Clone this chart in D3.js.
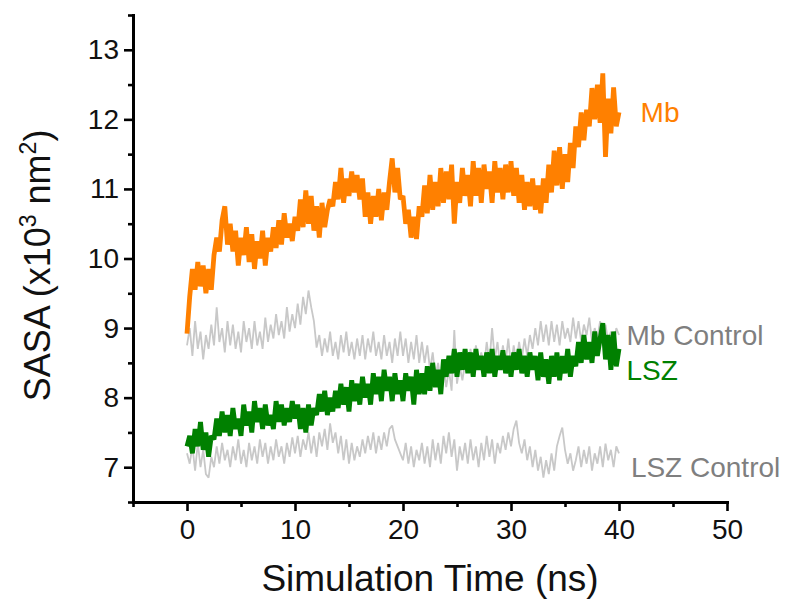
<!DOCTYPE html>
<html>
<head>
<meta charset="utf-8">
<script src="https://cdn.jsdelivr.net/npm/d3@7"></script>
<style>
  body { margin: 0; background: #fff; }
  text { font-family: "Liberation Sans", Arial, sans-serif; }
</style>
</head>
<body>
<div id="plot"></div>
<script>
// SASA traces, one value every 0.25 ns from 0 to 40 ns (x10^3 nm^2)
const step = 0.25;

const mb = [
  8.92, 9.45, 9.85, 9.55, 9.95, 9.6, 9.9, 9.5,
  9.85, 9.55, 10.05, 10.3, 10.1, 10.55, 10.75, 10.2,
  10.5, 10.1, 10.4, 9.9, 10.3, 10.05, 10.45, 9.95,
  10.35, 9.85, 10.25, 10.0, 10.4, 9.9, 10.3, 10.1,
  10.45, 10.15, 10.55, 10.2, 10.65, 10.3, 10.5, 10.25,
  10.6, 10.4, 10.85, 10.45, 10.98, 10.5, 10.9, 10.4,
  10.75, 10.3, 10.8, 10.45, 10.7, 10.85, 10.75, 11.1,
  10.85, 11.3, 10.8, 11.15, 10.9, 11.25, 10.95, 11.2,
  10.85, 11.15, 10.6, 10.95, 10.5, 10.9, 10.6, 11.0,
  10.55, 10.95, 10.7, 11.1, 11.44, 10.95, 11.3, 10.85,
  10.9, 10.5, 10.7, 10.3, 10.6, 10.28, 10.75, 10.6,
  11.05, 10.65, 11.2, 10.7, 11.1, 10.75, 11.3, 10.8,
  11.25, 10.85, 11.35, 10.5, 11.1, 10.8, 11.3, 10.9,
  11.2, 10.75, 11.4, 10.9, 11.3, 10.8, 11.35, 11.0,
  11.25, 10.8, 11.4, 10.95, 11.3, 10.85, 11.35, 10.95,
  11.4, 10.9, 11.3, 10.8, 11.2, 10.7, 11.1, 10.75,
  11.15, 10.7, 11.05, 10.65, 11.15, 10.8, 11.35, 10.95,
  11.55, 11.05, 11.6, 11.0, 11.5, 11.1, 11.66, 11.3,
  11.9, 11.6, 12.1, 11.7, 12.14, 11.9, 12.45, 12.0,
  12.5, 11.95, 12.66, 11.46, 12.3, 11.8, 12.46, 11.9,
  12.1
];

const lsz = [
  7.3, 7.45, 7.2, 7.55, 7.3, 7.65, 7.25, 7.5,
  7.15, 7.45, 7.4, 7.7, 7.45, 7.8, 7.5, 7.75,
  7.45, 7.85, 7.55, 7.7, 7.45, 7.9, 7.6, 7.8,
  7.5, 7.95, 7.65, 7.85, 7.55, 7.9, 7.6, 7.75,
  7.55, 7.95, 7.65, 7.9, 7.6, 7.85, 7.65, 7.95,
  7.7, 7.9, 7.55, 7.85, 7.5, 7.9, 7.6, 7.85,
  7.75, 8.05, 7.8, 8.1, 7.75, 8.0, 7.8, 8.1,
  7.85, 8.2, 7.9, 8.15, 7.8, 8.25, 7.95, 8.2,
  7.9, 8.3, 8.0, 8.2, 7.9, 8.35, 8.05, 8.3,
  7.95, 8.4, 8.1, 8.3, 7.95, 8.35, 8.05, 8.25,
  7.95, 8.35, 8.1, 8.3, 7.9, 8.4, 8.05, 8.35,
  8.05, 8.45, 8.1, 8.5, 8.15, 8.4, 8.05, 8.55,
  8.3, 8.6, 8.35, 8.7, 8.3, 8.65, 8.4, 8.7,
  8.35, 8.65, 8.3, 8.7, 8.4, 8.6, 8.3, 8.65,
  8.35, 8.7, 8.3, 8.6, 8.4, 8.68, 8.35, 8.6,
  8.3, 8.65, 8.4, 8.7, 8.35, 8.6, 8.3, 8.65,
  8.4, 8.6, 8.25, 8.65, 8.3, 8.55, 8.2, 8.6,
  8.3, 8.65, 8.25, 8.6, 8.35, 8.7, 8.3, 8.6,
  8.45, 8.8, 8.5, 8.9, 8.55, 8.8, 8.5, 8.95,
  8.6, 8.85, 9.07, 8.55, 8.9, 8.4, 8.95, 8.45,
  8.7
];

const mbControl = [
  8.75, 9.0, 8.6, 9.1, 8.7, 8.95, 8.55, 8.9,
  8.7, 9.05, 8.75, 9.3, 8.8, 9.0, 8.65, 9.1,
  8.75, 9.05, 8.7, 8.95, 8.65, 9.1, 8.8, 9.0,
  8.7, 9.1, 8.75, 8.95, 8.7, 9.15, 8.8, 9.05,
  8.85, 9.2, 8.9, 9.1, 8.85, 9.3, 8.95, 9.2,
  9.0, 9.35, 9.05, 9.45, 9.2, 9.54, 9.3, 9.1,
  8.72, 8.9, 8.6, 8.85, 8.65, 8.95, 8.6, 8.8,
  8.55, 8.9, 8.65, 8.95, 8.6, 8.8, 8.55, 8.85,
  8.6, 8.9, 8.55, 8.85, 8.65, 8.95, 8.6, 8.8,
  8.55, 8.9, 8.6, 8.8, 8.5, 8.85, 8.6, 8.95,
  8.6, 8.85, 8.5, 8.8, 8.55, 8.9, 8.5, 8.8,
  8.5, 8.75, 8.4, 8.65, 8.3, 8.5, 8.2, 8.45,
  8.15, 8.4, 8.1, 8.97, 8.2, 8.45, 8.25, 8.5,
  8.4, 8.7, 8.45, 8.75, 8.5, 8.65, 8.45, 8.8,
  8.5, 9.0, 8.55, 8.8, 8.45, 8.75, 8.5, 8.85,
  8.45, 8.75, 8.5, 8.8, 8.55, 8.85, 8.6, 8.9,
  8.7, 9.0, 8.75, 9.1, 8.8, 9.05, 8.75, 9.1,
  8.8, 9.05, 8.75, 9.1, 8.85, 9.0, 8.8, 9.15,
  8.85, 9.1, 8.8, 9.05, 8.9, 9.15, 8.8, 9.0,
  8.85, 9.1, 8.75, 9.05, 8.8, 8.95, 8.75, 9.0,
  8.9
];

const lszControl = [
  7.2, 7.05, 7.3, 6.95, 7.35, 7.0, 7.25, 6.9,
  6.85, 7.15, 7.0, 7.3, 7.05, 7.35, 7.1, 7.25,
  7.0, 7.3, 7.1, 7.4, 7.05, 7.25, 7.0, 7.35,
  7.1, 7.3, 7.05, 7.4, 7.15, 7.35, 7.05, 7.3,
  7.1, 7.4, 7.15, 7.3, 7.05, 7.35, 7.15, 7.43,
  7.2, 7.45, 7.15, 7.4, 7.25, 7.5, 7.2, 7.45,
  7.15, 7.5, 7.3, 7.55, 7.25, 7.63, 7.35, 7.5,
  7.2, 7.45, 7.1, 7.4, 7.05, 7.35, 7.1, 7.3,
  7.15, 7.4, 7.2, 7.45, 7.25, 7.5, 7.2, 7.45,
  7.25, 7.5, 7.3, 7.55, 7.6, 7.4, 7.3, 7.2,
  7.1, 7.35, 7.05, 7.3, 7.0, 7.25, 7.1, 7.35,
  7.05, 7.3, 7.0, 7.4, 7.1, 7.35, 7.05, 7.45,
  7.2, 7.5, 7.15, 7.4, 6.95, 7.3, 7.1, 7.35,
  7.05, 7.4, 7.1, 7.3, 7.0, 7.35, 7.1, 7.45,
  7.15, 7.4, 7.05, 7.35, 7.2, 7.45, 7.25, 7.5,
  7.3, 7.55, 7.67, 7.35, 7.2, 7.4, 7.1, 7.3,
  7.0, 7.25, 6.95, 7.15, 6.85, 7.1, 6.9, 7.2,
  6.95, 7.3, 7.45, 7.57, 7.25, 7.05, 7.2, 6.95,
  7.1, 7.3, 7.0, 7.25, 7.05, 7.3, 6.95, 7.2,
  7.05, 7.3, 7.0, 7.34, 7.1, 7.25, 7.0, 7.3,
  7.2
];

const xTicks = [0, 10, 20, 30, 40, 50];
const xMinor = [-5, 5, 15, 25, 35, 45];
const yTicks = [7, 8, 9, 10, 11, 12, 13];
const yMinor = [6.5, 7.5, 8.5, 9.5, 10.5, 11.5, 12.5, 13.5];

// draw order: controls underneath, then LSZ, then Mb
const series = [
  {name: "LSZ Control", values: lszControl, color: "#c8c8c8", width: 1.8},
  {name: "Mb Control", values: mbControl, color: "#c8c8c8", width: 1.8},
  {name: "LSZ", values: lsz, color: "#008000", width: 4.8},
  {name: "Mb", values: mb, color: "#ff8000", width: 4.8}
];

const labels = [
  {text: "Mb", x: 42, y: 12.1, color: "#ff8000"},
  {text: "Mb Control", x: 40.7, y: 8.9, color: "#7f7f7f"},
  {text: "LSZ", x: 40.7, y: 8.4, color: "#008000"},
  {text: "LSZ Control", x: 41.1, y: 7.0, color: "#7f7f7f"}
];

const width = 785, height = 601;
const margin = {top: 15, right: 58, bottom: 99, left: 133};

const svg = d3.select("#plot").append("svg")
  .attr("width", width)
  .attr("height", height);

const x = d3.scaleLinear([-5, 50], [margin.left, width - margin.right]);
const y = d3.scaleLinear([6.5, 13.5], [height - margin.bottom, margin.top]);

// traces
const line = d3.line()
  .x((d, i) => x(i * step))
  .y(d => y(d));

svg.selectAll("path.trace")
  .data(series)
  .join("path")
    .attr("class", "trace")
    .attr("d", d => line(d.values))
    .attr("fill", "none")
    .attr("stroke", d => d.color)
    .attr("stroke-width", d => d.width)
    .attr("stroke-linejoin", "miter")
    .attr("stroke-miterlimit", 2);

// axes: minor ticks first (no labels, no domain), then major ticks with labels
const xMinorAxis = d3.axisBottom(x).tickValues(xMinor).tickSize(5).tickSizeOuter(0).tickFormat("");
const xAxis = d3.axisBottom(x).tickValues(xTicks).tickSize(9).tickSizeOuter(0).tickPadding(8).tickFormat(d3.format("d"));
const yMinorAxis = d3.axisLeft(y).tickValues(yMinor).tickSize(5).tickSizeOuter(0).tickFormat("");
const yAxis = d3.axisLeft(y).tickValues(yTicks).tickSize(9).tickSizeOuter(0).tickPadding(5).tickFormat(d3.format("d"));

const xb = height - margin.bottom;
svg.append("g").attr("class", "axis minor").attr("transform", `translate(0,${xb})`).call(xMinorAxis);
svg.append("g").attr("class", "axis minor").attr("transform", `translate(${margin.left},0)`).call(yMinorAxis);
svg.append("g").attr("class", "axis").attr("transform", `translate(0,${xb})`).call(xAxis);
svg.append("g").attr("class", "axis").attr("transform", `translate(${margin.left},0)`).call(yAxis);

svg.selectAll(".axis.minor path.domain").remove();
svg.selectAll(".axis path.domain")
  .attr("stroke", "#000")
  .attr("stroke-width", 3)
  .attr("stroke-linecap", "square");
svg.selectAll(".axis .tick line")
  .attr("stroke", "#000")
  .attr("stroke-width", 2.6);
svg.selectAll(".axis .tick text")
  .attr("font-size", 28)
  .attr("fill", "#111")
  .style("font-family", "'Liberation Sans', Arial, sans-serif");

// series labels
svg.selectAll("text.lbl")
  .data(labels)
  .join("text")
    .attr("class", "lbl")
    .attr("x", d => x(d.x))
    .attr("y", d => y(d.y))
    .attr("dy", "0.36em")
    .attr("font-size", 28)
    .attr("fill", d => d.color)
    .text(d => d.text);

// axis titles
svg.append("text")
  .attr("x", (x(-5) + x(50)) / 2)
  .attr("y", 591)
  .attr("text-anchor", "middle")
  .attr("font-size", 37)
  .attr("fill", "#111")
  .text("Simulation Time (ns)");

const yt = svg.append("text")
  .attr("transform", `translate(50,${y(9.9)}) rotate(-90)`)
  .attr("text-anchor", "middle")
  .attr("font-size", 36)
  .attr("fill", "#111");
yt.append("tspan").text("SASA (x10");
yt.append("tspan").attr("dy", -14).attr("font-size", 23).text("3");
yt.append("tspan").attr("dy", 14).text(" nm");
yt.append("tspan").attr("dy", -14).attr("font-size", 23).text("2");
yt.append("tspan").attr("dy", 14).text(")");
</script>
</body>
</html>
